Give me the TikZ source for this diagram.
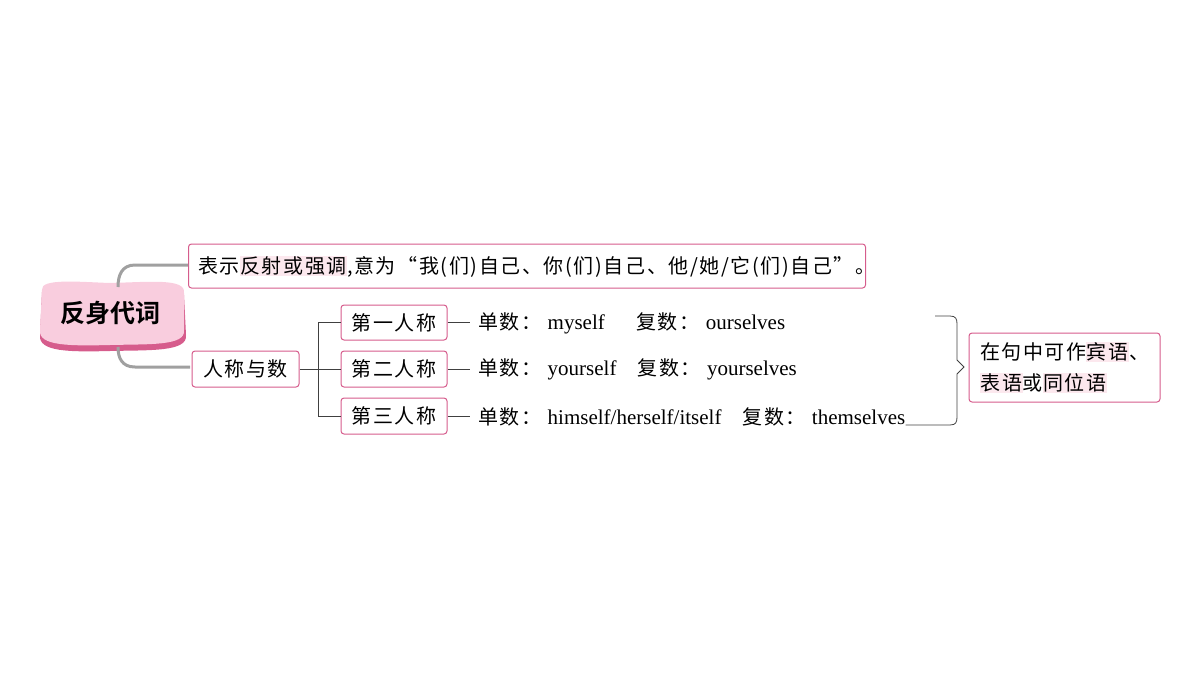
\documentclass[tikz,border=0pt]{standalone}
\usepackage{fontspec}
\setmainfont{Liberation Serif}
\newfontfamily\cjk[LetterSpace=8]{Noto Sans CJK SC}
\newfontfamily\cjkb{Noto Sans CJK SC Bold}
\definecolor{pk}{RGB}{214,92,140}
\definecolor{hlpink}{RGB}{252,232,238}
\definecolor{blob}{RGB}{249,205,222}
\definecolor{gr}{RGB}{160,160,160}
\newcommand\hlt[1]{{\setlength\fboxsep{0.5pt}\colorbox{hlpink}{#1}}}
\newcommand\cz[1]{{\cjk\fontsize{20}{24}\selectfont #1}\hspace{0.3em}}
\begin{document}
\begin{tikzpicture}[x=1pt,y=-1pt,
  bx/.style={draw=pk,line width=1pt,rounded corners=3pt,fill=white,inner sep=0pt,font=\cjk\fontsize{20}{24}\selectfont},
  ln/.style={draw=black!75,line width=0.8pt},
  gl/.style={draw=gr,line width=3pt},
  tx/.style={anchor=west,inner sep=0pt,font=\fontsize{21}{24}\selectfont}]
\useasboundingbox (0,0) rectangle (1200,675);
% main blob
\fill[pk] (42,292) .. controls (40,280) and (80,283) .. (110,284) .. controls (150,283) and (186,280) .. (184,295) -- (186,335) .. controls (188,352) and (150,350) .. (110,351) .. controls (70,352) and (38,352) .. (40,335) -- cycle;
\fill[blob] (42,290) .. controls (40,278) and (80,282) .. (110,283) .. controls (150,282) and (186,278) .. (184,293) -- (184,330) .. controls (186,346) and (150,344) .. (110,345) .. controls (70,346) and (38,346) .. (40,330) -- cycle;
\node[font=\cjkb\fontsize{25}{28}\selectfont,inner sep=0pt] (main) at (110,313) {反身代词};
% boxes
\node[bx,minimum width=677,minimum height=44] (def) at (527,266) {};
\node[tx,font=\cjk\fontsize{20}{24}\selectfont] (deft) at (198,267) {表示\hlt{反射或强调},意为“我(们)自己、你(们)自己、他/她/它(们)自己”。};
\node[bx,minimum width=107,minimum height=36] (rs) at (245.5,369) {人称与数};
\node[bx,minimum width=106,minimum height=35] (p1) at (394,322.5) {第一人称};
\node[bx,minimum width=106,minimum height=36] (p2) at (394,369) {第二人称};
\node[bx,minimum width=106,minimum height=36] (p3) at (394,416) {第三人称};
\node[bx,minimum width=191,minimum height=69,align=left,font=\cjk\fontsize{20}{31}\selectfont] (use) at (1064.5,367.5) {在句中可作\hlt{宾语}、\\\hlt{表语}或\hlt{同位语}};
% gray connectors
\draw[gl] (188,265) -- (135,265) .. controls (122,265) and (118,275) .. (118,287);
\draw[gl] (190,367) -- (135,367) .. controls (122,367) and (118,358) .. (118,347);
% tree
\coordinate (j) at (318,369);
\draw[ln] (rs.east) -- (j);
\draw[ln] (p1.west) -- (318,322.5) -- (318,416) -- (p3.west);
\draw[ln] (j) -- (p2.west);
% rows
\node[tx] (t1) at (478,323) {\cz{单数：}myself\hspace{1.5em}\cz{复数：}ourselves};
\node[tx] (t2) at (478,369.5) {\cz{单数：}yourself\hspace{1em}\cz{复数：}yourselves};
\node[tx] (t3) at (478,416.5) {\cz{单数：}himself/herself/itself\hspace{1em}\cz{复数：}themselves};
\draw[ln] (p1.east) -- (470,322.5);
\draw[ln] (p2.east) -- (470,369);
\draw[ln] (p3.east) -- (470,416);
% brace
\coordinate (bt) at (935,316);
\coordinate (bb) at (t3.south east);
\draw[ln] (bt) -- (950,316) .. controls (956,316) and (957,319) .. (957,324) -- (957,360) -- (964,367) -- (957,374) -- (957,417) .. controls (957,422) and (956,425) .. (950,425) -- (bb |- 0,425);
\end{tikzpicture}
\end{document}
